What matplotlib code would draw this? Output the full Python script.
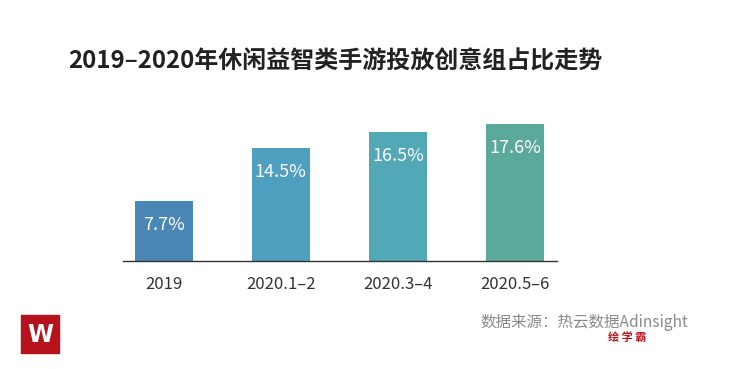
import matplotlib
matplotlib.use("Agg")
import matplotlib.pyplot as plt
from matplotlib.patches import Rectangle

plt.rcParams['font.family'] = ['Noto Sans CJK SC', 'DejaVu Sans']

categories = ["2019", "2020.1–2", "2020.3–4", "2020.5–6"]
values = [7.7, 14.5, 16.5, 17.6]
labels = ["7.7%", "14.5%", "16.5%", "17.6%"]
colors = ["#4a86b6", "#4e9fc0", "#52a8b6", "#5ba99a"]

title = "2019–2020年休闲益智类手游投放创意组占比走势"
source = "数据来源：热云数据Adinsight"

fig = plt.figure(figsize=(7.31, 3.69), dpi=100)
fig.patch.set_facecolor("white")
ax = fig.add_axes([0.168, 0.2927, 0.594, 0.4228])
x = list(range(len(categories)))
bars = ax.bar(x, values, width=0.5, color=colors, zorder=2)
ax.set_xlim(-0.35, 3.36)
ax.set_ylim(0, 20)
for xi, v, lab in zip(x, values, labels):
    ax.annotate(lab, (xi, v), xytext=(0, -24), textcoords="offset pixels",
                ha="center", va="center", color="white", fontsize=13)
for s in ["top", "right", "left"]:
    ax.spines[s].set_visible(False)
ax.spines["bottom"].set_color("#333333")
ax.spines["bottom"].set_linewidth(1.0)
ax.set_yticks([])
ax.set_xticks(x)
ax.set_xticklabels(categories, fontsize=12, color="#333333")
ax.tick_params(axis="x", length=0, pad=11)

fig.text(68 / 731, 1 - 62 / 369, title, fontsize=17.3, fontweight="bold",
         color="#222222", ha="left", va="center")
fig.text(688 / 731, 1 - 322 / 369, source, fontsize=11.2, color="#8a8a8a",
         ha="right", va="center")
fig.text(627 / 731, 1 - 337 / 369, "绘 学 霸", fontsize=8, color="#c0141b",
         fontweight="bold", ha="center", va="center")

# logo
fig.patches.append(Rectangle((21 / 731, 1 - 353 / 369), 38 / 731, 38 / 369,
                             transform=fig.transFigure, color="#b5121b", zorder=1))
fig.text(40 / 731, 1 - 334.5 / 369, "W", fontsize=17, fontweight="bold",
         color="white", ha="center", va="center", family="DejaVu Sans")

fig.savefig("out.png", dpi=100, facecolor="white")
